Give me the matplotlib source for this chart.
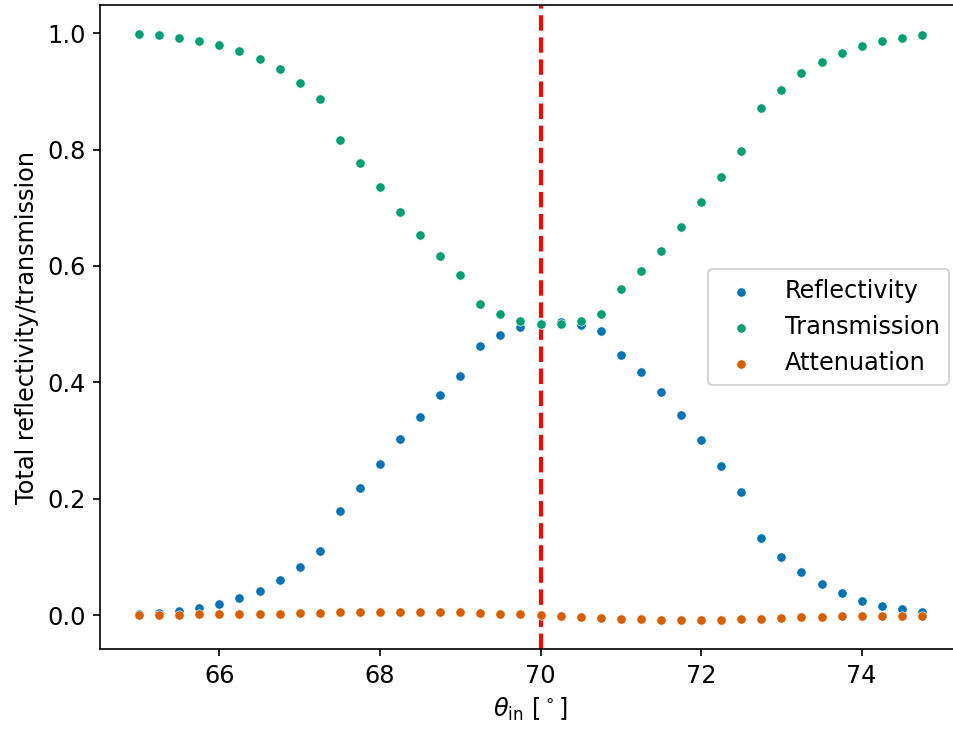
import numpy as np
import matplotlib
matplotlib.use("Agg")
import matplotlib.pyplot as plt

# Incidence angles [deg]
theta_in = [65.0, 65.25, 65.5, 65.75, 66.0, 66.25, 66.5, 66.75, 67.0, 67.25,
            67.5, 67.75, 68.0, 68.25, 68.5, 68.75, 69.0, 69.25, 69.5, 69.75,
            70.0, 70.25, 70.5, 70.75, 71.0, 71.25, 71.5, 71.75, 72.0, 72.25,
            72.5, 72.75, 73.0, 73.25, 73.5, 73.75, 74.0, 74.25, 74.5, 74.75]

reflectivity = [0.002, 0.003, 0.007, 0.012, 0.019, 0.029, 0.041, 0.060, 0.083, 0.110,
                0.179, 0.219, 0.260, 0.302, 0.341, 0.378, 0.410, 0.462, 0.481, 0.495,
                0.500, 0.503, 0.498, 0.488, 0.447, 0.417, 0.383, 0.343, 0.300, 0.257,
                0.212, 0.133, 0.100, 0.074, 0.053, 0.038, 0.024, 0.016, 0.010, 0.005]

transmission = [0.998, 0.997, 0.992, 0.987, 0.980, 0.970, 0.956, 0.939, 0.915, 0.887,
                0.816, 0.777, 0.735, 0.693, 0.653, 0.617, 0.584, 0.534, 0.517, 0.505,
                0.500, 0.500, 0.505, 0.517, 0.560, 0.591, 0.626, 0.666, 0.709, 0.753,
                0.797, 0.872, 0.903, 0.931, 0.950, 0.966, 0.978, 0.986, 0.991, 0.997]

attenuation = [0.000, 0.000, 0.0005, 0.001, 0.001, 0.001, 0.002, 0.002, 0.003, 0.004,
               0.005, 0.006, 0.006, 0.006, 0.006, 0.005, 0.005, 0.004, 0.002, 0.001,
               0.000, -0.002, -0.003, -0.005, -0.006, -0.007, -0.008, -0.008, -0.008, -0.008,
               -0.007, -0.006, -0.005, -0.004, -0.003, -0.002, -0.002, -0.001, -0.001, -0.001]

theta_B = 70.0

c_blue, c_green, c_orange = "#0173b2", "#029e73", "#d55e00"

plt.rcParams["font.size"] = 11.5

fig = plt.figure(figsize=(953 / 150, 729 / 150), dpi=150)
ax = fig.add_axes([100 / 953, 80 / 729, 861 / 953, 644 / 729])

for vals, col, lab in [(reflectivity, c_blue, "Reflectivity"),
                       (transmission, c_green, "Transmission"),
                       (attenuation, c_orange, "Attenuation")]:
    ax.scatter(theta_in, vals, s=20, color=col, edgecolor="white",
               linewidth=0.3, label=lab, zorder=3)

ax.axvline(theta_B, color="red", linestyle="--", linewidth=2, zorder=2)

ax.set_xlabel(r"$\theta_\mathrm{in}$ [$^\circ$]")
ax.set_ylabel("Total reflectivity/transmission")
ax.set_xticks([66, 68, 70, 72, 74])
ax.set_yticks([0.0, 0.2, 0.4, 0.6, 0.8, 1.0])

ax.legend(loc="center right")

fig.savefig("out.png", dpi=150)
